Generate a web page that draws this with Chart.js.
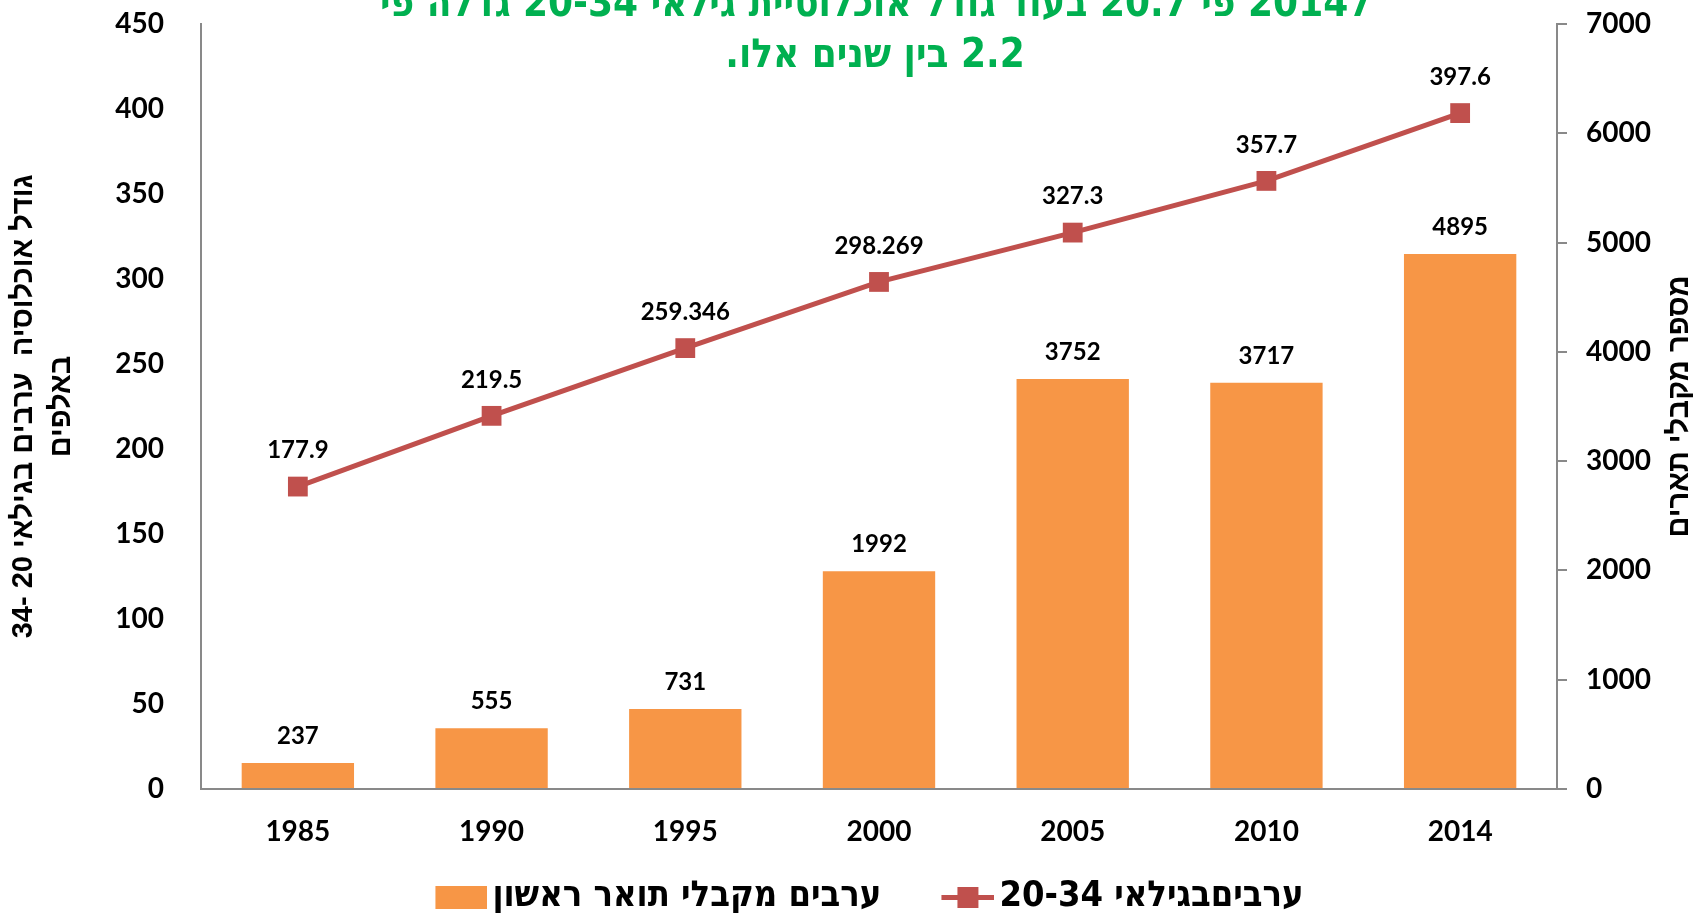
<!DOCTYPE html>
<html lang="he">
<head>
<meta charset="utf-8">
<script src="https://cdn.jsdelivr.net/npm/chart.js@4.4.1/dist/chart.umd.min.js"></script>
<style>
  html, body { margin: 0; padding: 0; background: #fff; overflow: hidden; }
  #chart { display: block; direction: rtl; }
</style>
</head>
<body>
<canvas id="chart" width="1696" height="913" dir="rtl"></canvas>
<script>
// data
const years = ["1985", "1990", "1995", "2000", "2005", "2010", "2014"];
const graduates = [237, 555, 731, 1992, 3752, 3717, 4895];
const population = [177.9, 219.5, 259.346, 298.269, 327.3, 357.7, 397.6];
const popTicks = [0, 50, 100, 150, 200, 250, 300, 350, 400, 450];
const gradTicks = [0, 1000, 2000, 3000, 4000, 5000, 6000, 7000];

const barLabel = "ערבים מקבלי תואר ראשון";
const lineLabel = "ערביםבגילאי 20-34";
const leftTitle = ["גודל אוכלוסיה  ערבים בגילאי 20 -34", "באלפים"];
const rightTitle = "מספר מקבלי תארים";
const titleLines = [
  "ל2014 פי 20.7 בעוד גודל אוכלוסיית גילאי 20-34 גדלה פי",
  "2.2 בין שנים אלו."
];

const ORANGE = "#F79646";
const RED = "#C0504D";
const GREEN = "#00B050";
const AXIS = "#898989";
const NUM_FONT = "Lato, 'Open Sans', sans-serif";
const HEB_FONT = "'Liberation Sans', Arial, sans-serif";
const NARROW_FONT = "'Liberation Sans Narrow', 'DejaVu Sans Condensed', sans-serif";

// legend: text size, gap between items, box slot width
const legendFont = 36;
const legendPad = 18;
const legendBox = 100 - legendPad;

// legend swatches, drawn flush right so the gap to the text stays small
function swatch(w, draw) {
  const c = document.createElement("canvas");
  c.width = legendBox + 26;
  c.height = 26;
  const g = c.getContext("2d");
  g.translate(c.width - w, 0);
  draw(g);
  return c;
}
const barSwatch = swatch(52, g => {
  g.fillStyle = ORANGE;
  g.fillRect(0, 2, 52, 23);
});
const lineSwatch = swatch(53, g => {
  g.fillStyle = RED;
  g.fillRect(0, 11, 53, 5);
  g.fillRect(16, 3, 21, 21);
});

// numbers above bars and points
const valueLabels = {
  id: "valueLabels",
  afterDatasetsDraw(chart) {
    const ctx = chart.ctx;
    ctx.save();
    ctx.font = "bold 24px " + NUM_FONT;
    ctx.fillStyle = "#000";
    ctx.textAlign = "center";
    ctx.textBaseline = "middle";
    chart.data.datasets.forEach((ds, i) => {
      const lift = ds.type === "line" ? 36 : 27;
      chart.getDatasetMeta(i).data.forEach((el, j) => {
        ctx.fillText(String(ds.data[j]), el.x, el.y - lift);
      });
    });
    ctx.restore();
  }
};

// green title (first line runs off the top edge) and right axis title
const extraText = {
  id: "extraText",
  afterDraw(chart) {
    const ctx = chart.ctx;
    const area = chart.chartArea;
    ctx.save();
    ctx.direction = "rtl";
    ctx.font = "bold 40px " + NARROW_FONT;
    ctx.fillStyle = GREEN;
    ctx.textAlign = "center";
    ctx.textBaseline = "alphabetic";
    ctx.fillText(titleLines[0], 875, 16);
    ctx.fillText(titleLines[1], 875, 67);

    ctx.font = "bold 29px " + HEB_FONT;
    ctx.fillStyle = "#000";
    ctx.textBaseline = "middle";
    ctx.translate(chart.scales.yRight.right - 16, (area.top + area.bottom) / 2);
    ctx.rotate(-Math.PI / 2);
    ctx.fillText(rightTitle, 0, 0);
    ctx.restore();
  }
};

// y axes: fixed widths, and no extra top padding from tick label padding
function fixY(width) {
  return s => {
    s.width = width;
    s.paddingTop = 0;
    s.paddingBottom = 0;
  };
}

new Chart(document.getElementById("chart"), {
  data: {
    labels: years,
    datasets: [
      {
        type: "bar",
        label: barLabel,
        data: graduates,
        yAxisID: "yRight",
        backgroundColor: ORANGE,
        categoryPercentage: 0.58,
        barPercentage: 1,
        order: 2
      },
      {
        type: "line",
        label: lineLabel,
        data: population,
        yAxisID: "yLeft",
        borderColor: RED,
        backgroundColor: RED,
        borderWidth: 5,
        tension: 0,
        pointStyle: "rect",
        pointRadius: 14,
        pointHoverRadius: 14,
        pointBackgroundColor: RED,
        pointBorderColor: RED,
        pointBorderWidth: 0,
        order: 1
      }
    ]
  },
  options: {
    responsive: false,
    animation: false,
    devicePixelRatio: 1,
    layout: { padding: { top: 24, left: 0, right: 0, bottom: -12 } },
    plugins: {
      tooltip: { enabled: false },
      legend: {
        position: "bottom",
        textDirection: "rtl",
        labels: {
          usePointStyle: true,
          pointStyleWidth: legendBox,
          padding: legendPad,
          color: "#000",
          font: { family: NARROW_FONT, size: legendFont, weight: "bold" },
          sort: (a, b) => a.datasetIndex - b.datasetIndex,
          generateLabels(chart) {
            const items = Chart.defaults.plugins.legend.labels.generateLabels(chart);
            items.forEach(it => {
              it.pointStyle = it.datasetIndex === 0 ? barSwatch : lineSwatch;
            });
            return items;
          }
        }
      }
    },
    scales: {
      x: {
        grid: { display: false, drawTicks: false },
        border: { display: true, color: AXIS, width: 2 },
        ticks: { color: "#000", padding: 26, font: { family: NUM_FONT, size: 28, weight: "bold" } },
        afterFit(s) { s.height = 72; }
      },
      yLeft: {
        position: "left",
        min: popTicks[0],
        max: popTicks[popTicks.length - 1],
        ticks: {
          stepSize: popTicks[1] - popTicks[0],
          padding: 37,
          color: "#000",
          font: { family: NUM_FONT, size: 28, weight: "bold" }
        },
        grid: { display: false, drawTicks: false },
        border: { display: true, color: AXIS, width: 2 },
        title: {
          display: true,
          text: leftTitle,
          color: "#000",
          padding: { top: 5, bottom: 0 },
          font: { family: HEB_FONT, size: 29, weight: "bold", lineHeight: 1.3 }
        },
        afterFit: fixY(201)
      },
      yRight: {
        position: "right",
        min: gradTicks[0],
        max: gradTicks[gradTicks.length - 1],
        ticks: {
          stepSize: gradTicks[1] - gradTicks[0],
          padding: 19,
          color: "#000",
          font: { family: NUM_FONT, size: 28, weight: "bold" },
          callback: v => String(v)
        },
        grid: { drawOnChartArea: false, drawTicks: true, tickLength: 10, color: AXIS, lineWidth: 2 },
        border: { display: true, color: AXIS, width: 2 },
        afterFit: fixY(139)
      }
    }
  },
  plugins: [valueLabels, extraText]
});
</script>
</body>
</html>
